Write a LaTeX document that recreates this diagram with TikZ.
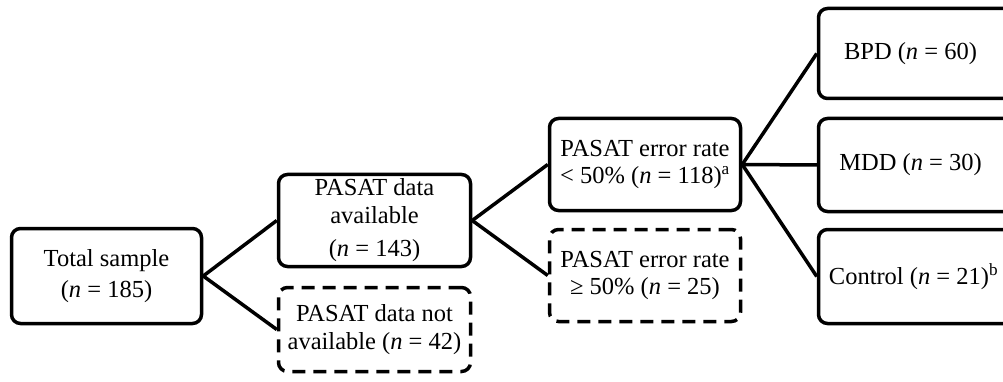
\documentclass[tikz,border=0pt]{standalone}
\usepackage{fontspec}
\setmainfont{Liberation Serif}
\begin{document}
\begin{tikzpicture}[x=1pt,y=-1pt,
 box/.style={draw, line width=3.5pt, rounded corners=9pt, align=center, inner sep=0pt, fill=white,
   font=\fontsize{24.5}{27.5}\selectfont},
 dashbox/.style={box, dash pattern=on 13pt off 8pt},
 link/.style={line width=3.5pt}]
\useasboundingbox (0,0) rectangle (1003,382);
\clip (0,0) rectangle (1003,382);
\node[box, minimum width=190pt, minimum height=95pt] (total) at (106.5,276) {Total sample\\[3pt](\textit{n} = 185)};
\node[box, minimum width=192pt, minimum height=92pt] (avail) at (374.5,220.5) {PASAT data\\available\\[6pt](\textit{n} = 143)};
\node[dashbox, minimum width=192pt, minimum height=84pt] (notavail) at (374.5,329.5) {PASAT data not\\available (\textit{n} = 42)};
\node[box, minimum width=191pt, minimum height=92pt] (low) at (645,164.5) {PASAT error rate\\{<} 50\% (\textit{n} = 118)\textsuperscript{a}};
\node[dashbox, minimum width=191pt, minimum height=92pt] (high) at (645,275.5) {PASAT error rate\\≥ 50\% (\textit{n} = 25)};
\node[box, minimum width=200pt, minimum height=90pt] (bpd) at (918.5,53.5) {\hspace*{-16pt}BPD (\textit{n} = 60)};
\node[box, minimum width=200pt, minimum height=93pt] (mdd) at (918.5,165) {\hspace*{-16pt}MDD (\textit{n} = 30)};
\node[box, minimum width=200pt, minimum height=94pt] (ctrl) at (918.5,276.5) {\hspace*{-10pt}Control (\textit{n} = 21)\textsuperscript{b}};
\draw[link] (total.east) -- (avail.west);
\draw[link] (total.east) -- (notavail.west);
\draw[link] (avail.east) -- (low.west);
\draw[link] (avail.east) -- (high.west);
\draw[link] (low.east) -- (bpd.west);
\draw[link] (low.east) -- (mdd.west);
\draw[link] (low.east) -- (ctrl.west);
\end{tikzpicture}
\end{document}
